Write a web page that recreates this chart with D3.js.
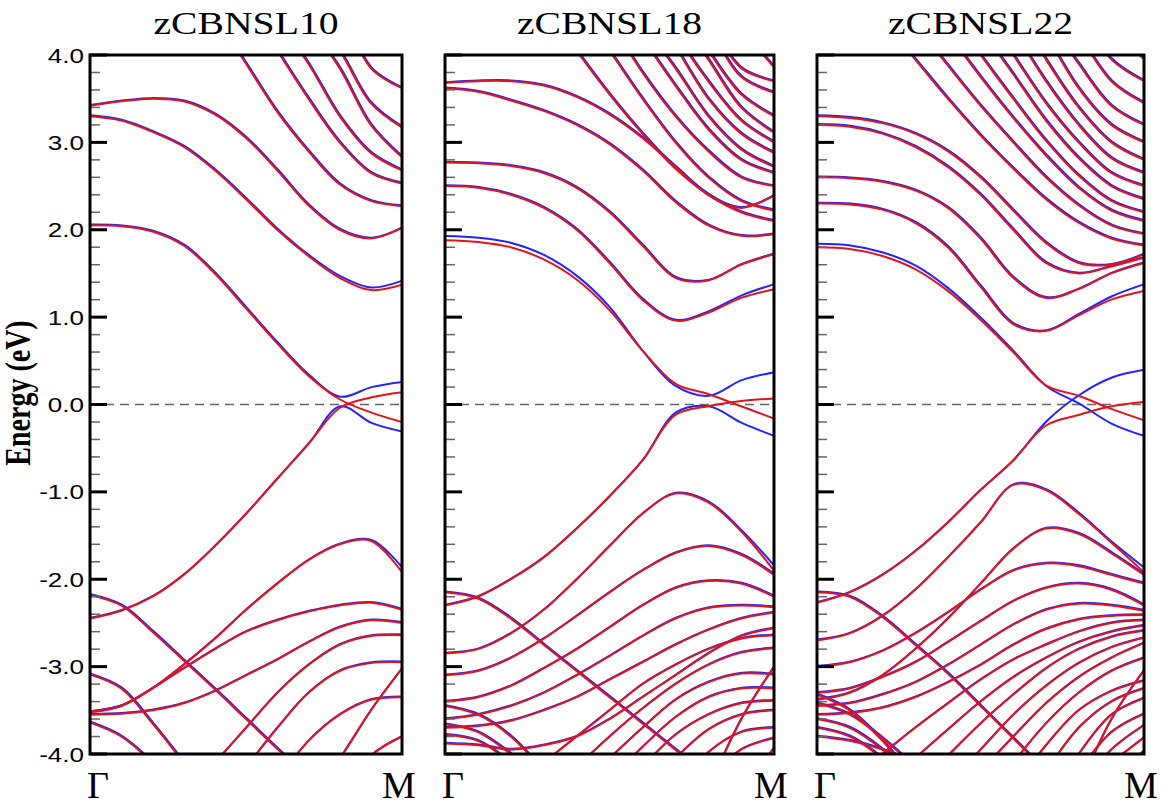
<!DOCTYPE html>
<html>
<head>
<meta charset="utf-8">
<script src="https://cdn.jsdelivr.net/npm/d3@7"></script>
<style>
  body { margin: 0; background: #fff; }
</style>
</head>
<body>
<svg id="chart"></svg>
<script>
const _ = null
const kGrid = [0, 0.1, 0.2, 0.3, 0.4, 0.5, 0.6, 0.7, 0.8, 0.9, 1]
const titles = ["zCBNSL10", "zCBNSL18", "zCBNSL22"]
const yTicks = [-4, -3, -2, -1, 0, 1, 2, 3, 4]
const kLabels = ["Γ", "M"]

// ---- zCBNSL10 ----
const sharedL10 = [
  [3.42, 3.47, 3.5, 3.47, 3.32, 3.05, 2.68, 2.28, 2.0, 1.9, 2.02],
  [_, _, _, _, 4.45, 3.9, 3.35, 2.9, 2.52, 2.33, 2.27],
  [_, _, _, _, _, 4.6, 4.05, 3.5, 3.0, 2.65, 2.53],
  [_, _, _, _, _, _, 4.4, 3.9, 3.3, 2.88, 2.68],
  [_, _, _, _, _, _, _, 4.35, 3.85, 3.2, 2.83],
  [_, _, _, _, _, _, _, 4.5, 4.05, 3.45, 3.17],
  [_, _, _, _, _, _, _, _, 4.6, 3.85, 3.62],
  [-3.52, -3.45, -3.25, -3.02, -2.8, -2.6, -2.47, -2.37, -2.3, -2.27, -2.35],
  [-3.55, -3.54, -3.5, -3.42, -3.28, -3.1, -2.92, -2.72, -2.55, -2.47, -2.5],
  [-2.18, -2.3, -2.6, -2.93, -3.26, -3.6, -3.94, -4.27, _, _, _],
  [-3.09, -3.25, -3.65, -4.1, _, _, _, _, _, _, _],
  [-3.64, -3.8, -4.1, _, _, _, _, _, _, _, _],
  [_, _, _, -4.5, -4.1, -3.7, -3.3, -2.98, -2.75, -2.65, -2.64],
  [_, _, _, _, -4.6, -4.15, -3.7, -3.3, -3.05, -2.96, -2.95],
  [_, _, _, _, _, _, -4.3, -3.85, -3.55, -3.38, -3.35],
  [_, _, _, _, _, _, _, -4.5, -4.05, -3.5, -3.02],
  [_, _, _, _, _, _, _, _, -4.5, -4.02, -3.8]
]
const redL10 = [
  [3.3, 3.25, 3.12, 2.95, 2.68, 2.35, 2.0, 1.7, 1.45, 1.31, 1.37],
  [2.05, 2.04, 1.98, 1.82, 1.5, 1.1, 0.7, 0.33, 0.06, -0.09, -0.2],
  [-2.45, -2.36, -2.2, -1.95, -1.62, -1.25, -0.85, -0.45, -0.04, 0.08, 0.14],
  [-3.52, -3.45, -3.25, -2.98, -2.68, -2.35, -2.05, -1.78, -1.6, -1.56, -1.92]
]
const blueL10 = [
  [3.3, 3.25, 3.12, 2.95, 2.68, 2.35, 2.0, 1.7, 1.46, 1.33, 1.41],
  [2.05, 2.04, 1.98, 1.82, 1.5, 1.1, 0.7, 0.33, 0.08, 0.19, 0.25],
  [-2.45, -2.36, -2.2, -1.95, -1.62, -1.25, -0.85, -0.45, -0.03, -0.22, -0.32],
  [-3.52, -3.45, -3.25, -2.98, -2.68, -2.35, -2.05, -1.78, -1.6, -1.56, -1.88]
]

// ---- zCBNSL18 ----
const sharedL18 = [
  [3.68, 3.7, 3.7, 3.65, 3.52, 3.32, 3.05, 2.72, 2.4, 2.25, 2.39],
  [3.62, 3.58, 3.48, 3.36, 3.2, 2.98, 2.68, 2.32, 2.05, 1.93, 1.95],
  [2.77, 2.76, 2.73, 2.65, 2.48, 2.2, 1.82, 1.45, 1.42, 1.6, 1.72],
  [_, _, _, 4.6, 4.05, 3.55, 3.1, 2.7, 2.4, 2.2, 2.1],
  [_, _, _, _, 4.6, 4.05, 3.5, 3.0, 2.6, 2.33, 2.22],
  [_, _, _, _, _, 4.4, 3.8, 3.3, 2.9, 2.6, 2.5],
  [_, _, _, _, _, 4.8, 4.2, 3.65, 3.15, 2.8, 2.65],
  [_, _, _, _, _, _, 4.35, 3.85, 3.3, 2.92, 2.72],
  [_, _, _, _, _, _, 4.7, 4.1, 3.5, 3.1, 2.88],
  [_, _, _, _, _, _, 4.9, 4.25, 3.7, 3.25, 3.0],
  [_, _, _, _, _, _, _, 4.5, 3.95, 3.4, 3.11],
  [_, _, _, _, _, _, _, 4.6, 4.05, 3.55, 3.3],
  [_, _, _, _, _, _, _, 5.0, 4.35, 3.75, 3.57],
  [_, _, _, _, _, _, _, _, 4.4, 3.85, 3.7],
  [_, _, _, _, _, _, _, _, 4.8, 4.3, 3.86],
  [-3.1, -3.05, -2.9, -2.68, -2.42, -2.15, -1.9, -1.7, -1.62, -1.72, -1.95],
  [-2.15, -2.22, -2.45, -2.75, -3.05, -3.35, -3.65, -3.95, -4.25, _, _],
  [-3.4, -3.35, -3.22, -3.02, -2.8, -2.55, -2.3, -2.1, -2.02, -2.05, -2.2],
  [-3.6, -3.55, -3.45, -3.3, -3.1, -2.88, -2.65, -2.45, -2.33, -2.3, -2.32],
  [-3.7, -3.68, -3.62, -3.5, -3.35, -3.15, -2.95, -2.75, -2.58, -2.45, -2.38],
  [-3.78, -3.85, -4.1, _, _, _, _, _, _, _, _],
  [-3.45, -3.55, -3.8, -4.2, _, _, _, _, _, _, _],
  [-3.66, -3.75, -4.0, -4.3, _, _, _, _, _, _, _],
  [-3.88, -3.9, -3.95, -3.9, -3.8, -3.6, -3.35, -3.1, -2.85, -2.65, -2.56],
  [_, _, -4.4, -4.1, -3.8, -3.5, -3.2, -2.98, -2.8, -2.68, -2.64],
  [_, _, _, -4.5, -4.15, -3.8, -3.48, -3.2, -2.98, -2.84, -2.79],
  [_, _, _, _, -4.4, -4.05, -3.7, -3.38, -3.18, -3.08, -3.09],
  [_, _, _, _, _, -4.3, -3.92, -3.58, -3.35, -3.25, -3.25],
  [_, _, _, _, _, _, -4.15, -3.78, -3.55, -3.42, -3.39],
  [_, _, _, _, _, _, _, -4.05, -3.72, -3.55, -3.5],
  [_, _, _, _, _, _, _, -4.4, -3.98, -3.75, -3.7],
  [_, _, _, _, _, _, _, _, -4.3, -3.95, -3.82],
  [_, _, _, _, _, _, _, _, -4.4, -3.6, -3.0],
  [_, _, _, _, _, _, _, _, _, -4.4, -3.93]
]
const redL18 = [
  [2.5, 2.48, 2.4, 2.25, 2.0, 1.62, 1.2, 0.96, 1.05, 1.22, 1.32],
  [1.88, 1.86, 1.8, 1.66, 1.43, 1.08, 0.62, 0.24, 0.12, -0.02, -0.16],
  [-2.3, -2.2, -2.0, -1.75, -1.42, -1.05, -0.64, -0.12, -0.02, 0.04, 0.07],
  [-2.85, -2.8, -2.62, -2.35, -2.0, -1.62, -1.25, -1.02, -1.12, -1.45, -1.9]
]
const blueL18 = [
  [2.5, 2.48, 2.4, 2.25, 2.0, 1.62, 1.2, 0.96, 1.06, 1.24, 1.37],
  [1.92, 1.9, 1.84, 1.7, 1.46, 1.1, 0.6, 0.2, 0.09, 0.27, 0.36],
  [-2.3, -2.2, -2.0, -1.75, -1.42, -1.05, -0.64, -0.1, -0.03, -0.22, -0.37],
  [-2.85, -2.8, -2.62, -2.35, -2.0, -1.62, -1.25, -1.02, -1.12, -1.45, -1.86]
]

// ---- zCBNSL22 ----
const sharedL22 = [
  [3.3, 3.28, 3.22, 3.1, 2.9, 2.6, 2.22, 1.85, 1.62, 1.6, 1.72],
  [3.2, 3.18, 3.1, 2.95, 2.72, 2.4, 2.0, 1.62, 1.5, 1.58, 1.68],
  [2.6, 2.59, 2.55, 2.45, 2.25, 1.9, 1.45, 1.22, 1.32, 1.5, 1.62],
  [_, _, 4.4, 3.95, 3.5, 3.08, 2.7, 2.35, 2.08, 1.9, 1.82],
  [_, _, _, 4.35, 3.88, 3.42, 3.0, 2.6, 2.28, 2.05, 1.95],
  [_, _, _, _, 4.25, 3.75, 3.28, 2.85, 2.48, 2.22, 2.1],
  [_, _, _, _, 4.5, 4.0, 3.5, 3.02, 2.62, 2.33, 2.2],
  [_, _, _, _, _, 4.3, 3.78, 3.25, 2.82, 2.5, 2.35],
  [_, _, _, _, _, 4.55, 4.0, 3.45, 3.0, 2.65, 2.5],
  [_, _, _, _, _, _, 4.3, 3.7, 3.2, 2.82, 2.65],
  [_, _, _, _, _, _, 4.6, 3.95, 3.4, 3.0, 2.8],
  [_, _, _, _, _, _, _, 4.25, 3.62, 3.2, 3.0],
  [_, _, _, _, _, _, _, 4.45, 3.9, 3.42, 3.2],
  [_, _, _, _, _, _, _, _, 4.25, 3.7, 3.45],
  [_, _, _, _, _, _, _, _, 4.5, 3.95, 3.7],
  [_, _, _, _, _, _, _, _, _, 4.3, 3.95],
  [-3.38, -3.3, -3.1, -2.8, -2.45, -2.05, -1.65, -1.42, -1.48, -1.7, -1.95],
  [-2.15, -2.2, -2.43, -2.75, -3.08, -3.45, -3.82, -4.2, _, _, _],
  [-3.0, -2.95, -2.82, -2.62, -2.38, -2.12, -1.9, -1.82, -1.85, -1.95, -2.05],
  [-3.3, -3.25, -3.12, -2.95, -2.72, -2.48, -2.25, -2.1, -2.05, -2.12, -2.3],
  [-3.45, -3.42, -3.32, -3.18, -2.98, -2.75, -2.52, -2.35, -2.28, -2.3, -2.36],
  [-3.55, -3.53, -3.47, -3.35, -3.18, -2.98, -2.75, -2.57, -2.46, -2.42, -2.41],
  [-3.7, -3.8, -4.05, _, _, _, _, _, _, _, _],
  [-3.8, -3.85, -3.95, -4.1, _, _, _, _, _, _, _],
  [-3.32, -3.5, -3.85, -4.3, _, _, _, _, _, _, _],
  [-3.42, -3.55, -3.82, -4.15, _, _, _, _, _, _, _],
  [-3.6, -3.7, -3.95, -4.3, _, _, _, _, _, _, _],
  [_, -4.3, -4.0, -3.7, -3.42, -3.15, -2.92, -2.75, -2.6, -2.5, -2.47],
  [_, _, -4.4, -4.05, -3.72, -3.4, -3.12, -2.9, -2.72, -2.6, -2.53],
  [_, _, _, -4.4, -4.02, -3.65, -3.32, -3.02, -2.8, -2.66, -2.59],
  [_, _, _, _, -4.35, -3.95, -3.55, -3.22, -2.96, -2.78, -2.67],
  [_, _, _, _, _, -4.2, -3.8, -3.42, -3.12, -2.9, -2.73],
  [_, _, _, _, _, _, -4.1, -3.65, -3.3, -3.05, -2.9],
  [_, _, _, _, _, _, -4.4, -3.9, -3.5, -3.28, -3.16],
  [_, _, _, _, _, _, _, -4.2, -3.7, -3.4, -3.25],
  [_, _, _, _, _, _, _, _, -4.0, -3.55, -3.36],
  [_, _, _, _, _, _, _, _, -4.2, -3.75, -3.54],
  [_, _, _, _, _, _, _, _, -4.4, -3.95, -3.67],
  [_, _, _, _, _, _, _, _, _, -4.1, -3.81],
  [_, _, _, _, _, _, _, _, -4.4, -3.6, -3.04],
  [_, _, _, _, _, _, _, _, _, -4.3, -3.96]
]
const redL22 = [
  [2.3, 2.29, 2.23, 2.08, 1.8, 1.35, 0.92, 0.84, 1.02, 1.2, 1.3],
  [1.8, 1.78, 1.7, 1.55, 1.3, 0.97, 0.6, 0.22, 0.1, -0.05, -0.18],
  [-2.27, -2.15, -1.95, -1.68, -1.35, -0.98, -0.64, -0.24, -0.12, -0.02, 0.03],
  [-2.7, -2.62, -2.42, -2.12, -1.75, -1.35, -0.92, -0.98, -1.25, -1.58, -1.92]
]
const blueL22 = [
  [2.3, 2.29, 2.23, 2.08, 1.8, 1.35, 0.92, 0.84, 1.03, 1.23, 1.37],
  [1.83, 1.81, 1.73, 1.58, 1.32, 0.98, 0.6, 0.2, 0.0, -0.23, -0.37],
  [-2.27, -2.15, -1.95, -1.68, -1.35, -0.98, -0.64, -0.2, 0.1, 0.3, 0.39],
  [-2.7, -2.62, -2.42, -2.12, -1.75, -1.35, -0.92, -0.98, -1.25, -1.58, -1.88]
]

const panels = [
  {title: titles[0], shared: sharedL10, red: redL10, blue: blueL10, x0: 90, x1: 402},
  {title: titles[1], shared: sharedL18, red: redL18, blue: blueL18, x0: 445, x1: 774},
  {title: titles[2], shared: sharedL22, red: redL22, blue: blueL22, x0: 817, x1: 1144}
]

const width = 1162, height = 805
const yTop = 55, yBot = 754
const RED = '#e0141c', BLUE = '#2424ff'

const svg = d3.select('#chart')
  .attr('width', width)
  .attr('height', height)
  .style('font-family', '"Liberation Serif", "Times New Roman", serif')

const y = d3.scaleLinear().domain([-4, 4]).range([yBot, yTop])
const minorTicks = d3.range(-40, 41, 2).map(v => v / 10)

panels.forEach((p, i) => {
  const x = d3.scaleLinear().domain([0, 1]).range([p.x0, p.x1])
  const g = svg.append('g')

  svg.append('clipPath').attr('id', 'clip' + i)
    .append('rect')
    .attr('x', p.x0).attr('y', yTop)
    .attr('width', p.x1 - p.x0).attr('height', yBot - yTop)

  const line = d3.line()
    .defined(d => d[1] !== null)
    .x(d => x(d[0]))
    .y(d => y(d[1]))
    .curve(d3.curveCatmullRom.alpha(0.5))

  const toPts = band => band.map((e, j) => [kGrid[j], e])

  const plot = g.append('g').attr('clip-path', `url(#clip${i})`)

  // Fermi level
  plot.append('line')
    .attr('x1', p.x0).attr('x2', p.x1)
    .attr('y1', y(0)).attr('y2', y(0))
    .attr('stroke', '#666')
    .attr('stroke-width', 1.6)
    .attr('stroke-dasharray', '9,6')

  plot.append('g')
    .attr('transform', 'translate(0.7,-0.8)')
    .selectAll('path')
    .data(p.shared.concat(p.blue))
    .enter().append('path')
    .attr('d', d => line(toPts(d)))
    .attr('fill', 'none')
    .attr('stroke', BLUE)
    .attr('stroke-width', 2)

  plot.append('g')
    .selectAll('path')
    .data(p.shared.concat(p.red))
    .enter().append('path')
    .attr('d', d => line(toPts(d)))
    .attr('fill', 'none')
    .attr('stroke', RED)
    .attr('stroke-width', 2)

  // ticks on the left side of each frame
  g.append('g')
    .selectAll('line')
    .data(minorTicks.filter(v => Math.abs(v - Math.round(v)) > 1e-6))
    .enter().append('line')
    .attr('x1', p.x0).attr('x2', p.x0 + 10)
    .attr('y1', d => y(d)).attr('y2', d => y(d))
    .attr('stroke', '#666')
    .attr('stroke-width', 1.5)

  g.append('g')
    .selectAll('line')
    .data(yTicks)
    .enter().append('line')
    .attr('x1', p.x0).attr('x2', p.x0 + 17)
    .attr('y1', d => y(d)).attr('y2', d => y(d))
    .attr('stroke', '#000')
    .attr('stroke-width', 3)

  g.append('rect')
    .attr('x', p.x0).attr('y', yTop)
    .attr('width', p.x1 - p.x0).attr('height', yBot - yTop)
    .attr('fill', 'none')
    .attr('stroke', '#000')
    .attr('stroke-width', 3)

  g.append('text')
    .attr('transform', `translate(${(p.x0 + p.x1) / 2},34) scale(1.28,1)`)
    .attr('text-anchor', 'middle')
    .attr('font-size', 31)
    .text(p.title)

  g.append('text')
    .attr('x', p.x0 - 3).attr('y', 798)
    .attr('font-size', 38)
    .text(kLabels[0])

  g.append('text')
    .attr('x', p.x1 - 3).attr('y', 798)
    .attr('text-anchor', 'middle')
    .attr('font-size', 38)
    .text(kLabels[1])
})

svg.append('g')
  .selectAll('text')
  .data(yTicks)
  .enter().append('text')
  .attr('transform', d => `translate(84,${y(d)}) scale(1.24,1)`)
  .attr('text-anchor', 'end')
  .attr('dy', '0.36em')
  .attr('font-family', '"Liberation Sans", Arial, sans-serif')
  .attr('font-size', 21)
  .text(d => d.toFixed(1))

svg.append('text')
  .attr('transform', `translate(30,393) scale(1.25,1) rotate(-90)`)
  .attr('text-anchor', 'middle')
  .attr('font-weight', 'bold')
  .attr('font-size', 28)
  .text('Energy (eV)')
</script>
</body>
</html>
